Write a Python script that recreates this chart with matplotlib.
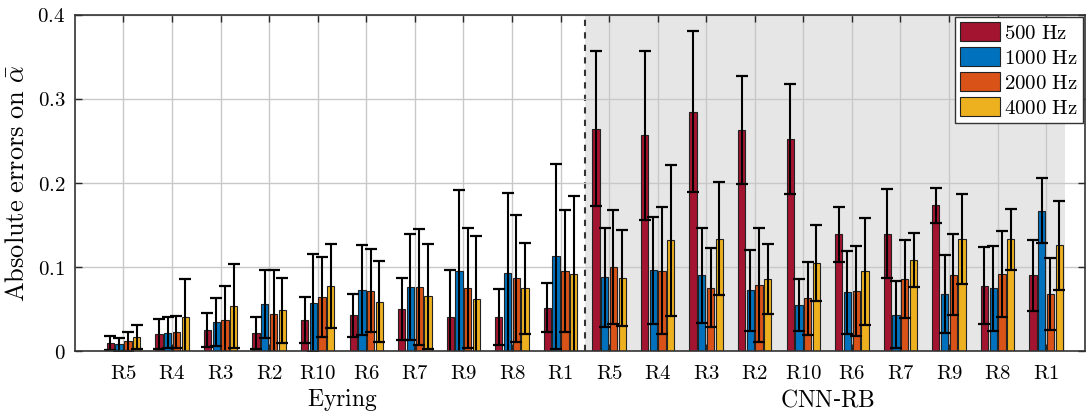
import numpy as np
import matplotlib
matplotlib.use("Agg")
import matplotlib.pyplot as plt

plt.rcParams['mathtext.fontset'] = 'cm'
plt.rcParams['font.family'] = 'serif'
plt.rcParams['font.serif'] = ['DejaVu Serif']

rooms = ["R5", "R4", "R3", "R2", "R10", "R6", "R7", "R9", "R8", "R1"]
methods = ["Eyring", "CNN-RB"]
series = ["500 Hz", "1000 Hz", "2000 Hz", "4000 Hz"]
colors = ["#A2142F", "#0072BD", "#D95319", "#EDB120"]

# mean absolute errors (Eyring then CNN-RB), per frequency
val_500 = [0.0095, 0.020, 0.025, 0.021, 0.037, 0.0425, 0.050, 0.040, 0.0405, 0.0516,
           0.2647, 0.257, 0.285, 0.2627, 0.252, 0.139, 0.1397, 0.1734, 0.0778, 0.090]
val_1000 = [0.008, 0.022, 0.0345, 0.056, 0.0575, 0.0726, 0.0766, 0.0949, 0.093, 0.113,
            0.088, 0.0964, 0.090, 0.0722, 0.0548, 0.070, 0.0433, 0.0675, 0.0746, 0.167]
val_2000 = [0.0115, 0.023, 0.037, 0.044, 0.064, 0.0718, 0.0762, 0.0754, 0.0865, 0.0952,
            0.100, 0.0956, 0.0754, 0.0786, 0.0627, 0.071, 0.0857, 0.0909, 0.092, 0.0679]
val_4000 = [0.0167, 0.041, 0.054, 0.0484, 0.078, 0.0587, 0.0655, 0.0615, 0.0746, 0.0913,
            0.0873, 0.132, 0.1337, 0.0853, 0.105, 0.0948, 0.1087, 0.1333, 0.133, 0.126]

# upper end of error bars (value + std)
top_500 = [0.018, 0.038, 0.0456, 0.040, 0.064, 0.068, 0.087, 0.096, 0.074, 0.081,
           0.357, 0.3575, 0.381, 0.327, 0.3175, 0.1714, 0.1929, 0.194, 0.1234, 0.1325]
top_1000 = [0.0155, 0.040, 0.063, 0.0964, 0.116, 0.126, 0.1397, 0.192, 0.188, 0.223,
            0.1468, 0.160, 0.1468, 0.120, 0.0857, 0.1194, 0.083, 0.114, 0.1254, 0.2056]
top_2000 = [0.023, 0.042, 0.078, 0.0964, 0.1115, 0.121, 0.1456, 0.1468, 0.162, 0.168,
            0.1675, 0.1714, 0.1226, 0.146, 0.106, 0.1246, 0.132, 0.139, 0.143, 0.111]
top_4000 = [0.031, 0.086, 0.104, 0.087, 0.128, 0.1067, 0.128, 0.137, 0.1286, 0.185,
            0.1444, 0.222, 0.2008, 0.127, 0.150, 0.158, 0.141, 0.187, 0.169, 0.179]

vals = [val_500, val_1000, val_2000, val_4000]
tops = [top_500, top_1000, top_2000, top_4000]
labels = rooms + rooms
x = np.arange(1, len(labels) + 1)


def cm(s):
    # Computer-Modern look via mathtext, keeping hyphens as text hyphens
    parts = s.split("-")
    return "-".join(r"$\mathrm{%s}$" % p.replace(" ", r"\ ") for p in parts)


fig = plt.figure(figsize=(10.86, 4.15), dpi=100)
ax = fig.add_axes([0.069, 0.154, 0.93, 0.81])

ax.axvspan(10.5, 20.4, color="#e6e6e6", zorder=0, lw=0)
ax.axvline(10.5, color="#333333", ls=(0, (3, 3)), lw=1.5, zorder=1)

width = 0.15
offsets = [-0.27, -0.09, 0.09, 0.27]
for v, t, c, o, s in zip(vals, tops, colors, offsets, series):
    v = np.array(v)
    err = np.array(t) - v
    ax.bar(x + o, v, width, color=c, edgecolor="#222222", linewidth=0.8,
           zorder=3, label=cm(s))
    ax.errorbar(x + o, v, yerr=err, fmt="none", ecolor="black", elinewidth=1.5,
                capsize=4.5, capthick=1.6, zorder=4)

ax.set_xlim(0, 20.8)
ax.set_ylim(0, 0.4)
ax.set_xticks(x)
ax.set_xticklabels([cm(l) for l in labels], fontsize=15)
ax.set_yticks([0, 0.1, 0.2, 0.3, 0.4])
ax.set_yticklabels([r"$0$", r"$0.1$", r"$0.2$", r"$0.3$", r"$0.4$"], fontsize=15)
ax.tick_params(direction="in", top=True, right=True, length=5, width=1, colors="#262626")
ax.tick_params(axis="x", labelcolor="black", pad=9)
ax.tick_params(axis="y", labelcolor="black", pad=7)
ax.grid(True, color="#c8c8c8", lw=1, zorder=2)
ax.set_axisbelow(False)
for sp in ax.spines.values():
    sp.set_color("#333333")
    sp.set_linewidth(1.2)
    sp.set_zorder(5)

ax.set_ylabel(r"$\mathrm{Absolute\ errors\ on}\ \bar{\alpha}$", fontsize=19, labelpad=6)

ax.text(5.5, -0.058, cm(methods[0]), ha="center", va="center", fontsize=17,
        transform=ax.transData, clip_on=False)
ax.text(15.5, -0.058, cm(methods[1]), ha="center", va="center", fontsize=17,
        transform=ax.transData, clip_on=False)

leg = ax.legend(loc="upper right", fontsize=15, fancybox=False, framealpha=1,
                edgecolor="#333333", borderpad=0.25, handlelength=1.9, handleheight=1.0,
                handletextpad=0.2, labelspacing=0.22, borderaxespad=0.1)
leg.get_frame().set_linewidth(1)
leg.set_zorder(10)

fig.savefig("out.png", dpi=100)
